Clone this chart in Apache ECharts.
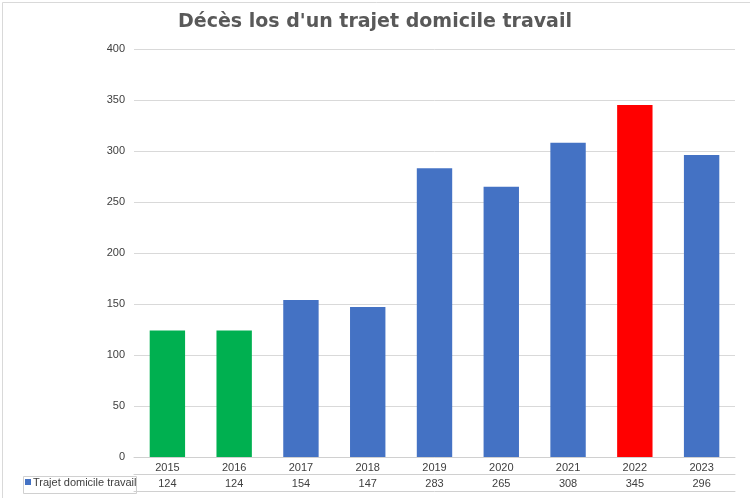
<!DOCTYPE html>
<html><head><meta charset="utf-8">
<script src="https://cdn.jsdelivr.net/npm/echarts@6/dist/echarts.min.js"></script>
<style>body{margin:0}#c{width:750px;height:498px}</style></head>
<body><div id="c"></div>
<script>
var years = ['2015','2016','2017','2018','2019','2020','2021','2022','2023']
var deces = [124, 124, 154, 147, 283, 265, 308, 345, 296]
var barColors = ['#00b050','#00b050','#4472c4','#4472c4','#4472c4','#4472c4','#4472c4','#ff0000','#4472c4']

var chart = echarts.init(document.getElementById('c'))
var lineCol = '#d0d0d0'
var txt = {color: '#404040', fontSize: 11, fontFamily: 'Liberation Sans'}
chart.setOption({
  animation: false,
  backgroundColor: '#fff',
  title: {
    text: "Décès los d'un trajet domicile travail", left: 'center', top: 8,
    textStyle: {fontSize: 19, fontWeight: 'bold', color: '#595959', fontFamily: 'DejaVu Sans'}
  },
  grid: {left: 134, right: 15, top: 49, bottom: 41},
  xAxis: [
    {type: 'category', data: years, position: 'bottom',
     axisLine: {lineStyle: {color: lineCol}},
     axisTick: {length: 17, lineStyle: {color: lineCol}},
     axisLabel: Object.assign({margin: 5}, txt)},
    {type: 'category', data: deces.map(String), position: 'bottom', offset: 17,
     axisLine: {lineStyle: {color: lineCol}},
     axisTick: {length: 17, lineStyle: {color: lineCol}},
     axisLabel: Object.assign({margin: 4}, txt)},
    {type: 'category', data: years, position: 'bottom', offset: 34,
     axisLine: {lineStyle: {color: lineCol}}, axisTick: {show: false}, axisLabel: {show: false}}
  ],
  yAxis: {type: 'value', min: 0, max: 400, interval: 50,
    axisLine: {show: false}, axisTick: {show: false},
    splitLine: {lineStyle: {color: '#d9d9d9'}},
    axisLabel: Object.assign({margin: 9}, txt)},
  series: [{type: 'bar', data: deces.map(function(v, i) { return {value: v, itemStyle: {color: barColors[i]}} }),
    barWidth: '53%'}],
  graphic: [
    {type: 'rect', left: 0, top: 0, shape: {width: 749, height: 497}, style: {fill: 'none', stroke: '#d9d9d9'}},
    {type: 'rect', left: 21, top: 474, shape: {width: 113, height: 17}, style: {fill: 'none', stroke: lineCol}},
    {type: 'rect', left: 25, top: 479, shape: {width: 6, height: 6}, style: {fill: '#4472c4'}},
    {type: 'text', left: 33, top: 477, style: {text: 'Trajet domicile travail', fill: '#404040', font: '11px Liberation Sans'}}
  ]
})
</script></body></html>
